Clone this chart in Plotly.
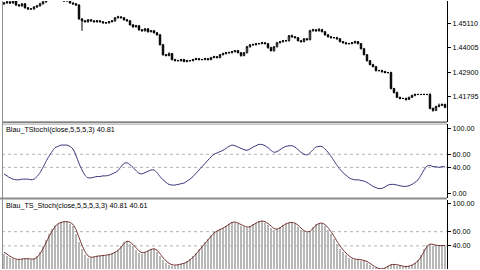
import plotly.graph_objects as go

# ---------------- data ----------------
close = [1.4604, 1.4609, 1.4604, 1.4613, 1.4595, 1.4591, 1.4600, 1.4582, 1.4577, 1.4577,
         1.4586, 1.4591, 1.4600, 1.4609, 1.4622, 1.4631, 1.4640, 1.4636, 1.4640, 1.4618,
         1.4613, 1.4618, 1.4604, 1.4600, 1.4595, 1.4532, 1.4523, 1.4519, 1.4528, 1.4523,
         1.4519, 1.4523, 1.4519, 1.4514, 1.4514, 1.4519, 1.4523, 1.4537, 1.4541, 1.4537,
         1.4528, 1.4523, 1.4505, 1.4496, 1.4501, 1.4483, 1.4478, 1.4487, 1.4474, 1.4478,
         1.4469, 1.4460, 1.4415, 1.4370, 1.4366, 1.4375, 1.4348, 1.4343, 1.4343, 1.4348,
         1.4339, 1.4343, 1.4343, 1.4348, 1.4352, 1.4348, 1.4348, 1.4352, 1.4348, 1.4357,
         1.4361, 1.4357, 1.4370, 1.4375, 1.4379, 1.4379, 1.4384, 1.4388, 1.4379, 1.4366,
         1.4379, 1.4406, 1.4415, 1.4415, 1.4420, 1.4420, 1.4424, 1.4420, 1.4402, 1.4388,
         1.4406, 1.4424, 1.4429, 1.4433, 1.4433, 1.4456, 1.4451, 1.4447, 1.4433, 1.4429,
         1.4442, 1.4438, 1.4478, 1.4483, 1.4478, 1.4483, 1.4474, 1.4460, 1.4451, 1.4447,
         1.4447, 1.4442, 1.4429, 1.4424, 1.4420, 1.4420, 1.4424, 1.4429, 1.4420, 1.4397,
         1.4370, 1.4343, 1.4325, 1.4316, 1.4298, 1.4298, 1.4294, 1.4289, 1.4289, 1.4217,
         1.4199, 1.4177, 1.4172, 1.4172, 1.4168, 1.4177, 1.4186, 1.4190, 1.4190, 1.4190,
         1.4190, 1.4190, 1.4127, 1.4118, 1.4136, 1.4141, 1.4145, 1.4132]
first_open = 1.4600
upper_wick_pips = [3, 4, 3, 5, 3, 4, 3, 4, 3, 3,
                   4, 3, 5, 4, 3, 4, 5, 3, 4, 5,
                   3, 4, 3, 3, 4, 3, 3, 4, 3, 3,
                   3, 4, 3, 3, 4, 3, 4, 3, 5, 3,
                   3, 4, 3, 3, 4, 3, 3, 4, 3, 3,
                   4, 3, 3, 4, 3, 5, 3, 3, 4, 3,
                   3, 4, 3, 3, 4, 3, 3, 4, 3, 3,
                   4, 3, 3, 4, 3, 5, 3, 3, 4, 3,
                   3, 4, 3, 5, 3, 3, 4, 3, 3, 4,
                   3, 4, 3, 3, 4, 3, 5, 3, 3, 4,
                   3, 3, 5, 4, 3, 8, 4, 3, 3, 4,
                   3, 4, 3, 3, 4, 3, 3, 4, 3, 3,
                   4, 3, 3, 4, 3, 3, 4, 3, 3, 4,
                   3, 4, 3, 3, 4, 3, 3, 4, 3, 3,
                   4, 3, 6, 4, 3, 8, 4, 3]
lower_wick_pips = [4, 3, 5, 3, 4, 3, 4, 3, 5, 3,
                   3, 4, 3, 3, 4, 3, 3, 4, 3, 3,
                   4, 3, 3, 4, 3, 4, 45, 3, 4, 3,
                   3, 4, 3, 3, 4, 3, 3, 4, 3, 3,
                   4, 3, 3, 4, 3, 5, 3, 3, 4, 3,
                   3, 4, 3, 5, 3, 3, 4, 3, 3, 4,
                   3, 3, 4, 3, 3, 4, 3, 3, 4, 3,
                   3, 4, 3, 3, 4, 3, 3, 4, 3, 5,
                   3, 3, 4, 3, 3, 4, 3, 3, 5, 3,
                   4, 3, 3, 4, 3, 3, 4, 3, 3, 4,
                   3, 4, 3, 3, 4, 3, 3, 4, 3, 3,
                   3, 4, 3, 3, 4, 3, 3, 4, 3, 3,
                   3, 4, 3, 3, 4, 3, 6, 3, 3, 4,
                   5, 3, 4, 3, 6, 3, 3, 4, 3, 3,
                   3, 3, 4, 6, 3, 4, 3, 4]

stoch = [30, 27, 24, 22, 21, 21, 22, 22, 22, 21,
         22, 26, 32, 40, 49, 57, 64, 70, 72, 74,
         74, 74, 72, 68, 58, 46, 36, 28, 24, 24,
         25, 26, 26, 27, 27, 28, 30, 32, 35, 41,
         46, 47, 44, 40, 35, 31, 30, 32, 34, 36,
         36, 32, 26, 21, 17, 14, 13, 13, 14, 15,
         16, 19, 22, 26, 31, 36, 41, 46, 51, 56,
         60, 62, 64, 66, 69, 72, 74, 73, 71, 69,
         67, 66, 68, 71, 73, 75, 75, 73, 70, 66,
         63, 64, 67, 70, 72, 73, 73, 71, 67, 63,
         60, 59, 62, 67, 71, 72, 72, 68, 63, 57,
         50, 43, 37, 32, 28, 24, 22, 21, 21, 20,
         19, 17, 14, 11, 9, 7.5, 8, 10, 13, 14,
         14, 13, 12, 11, 11, 12, 14, 17, 21, 28,
         36, 42, 43, 41, 41, 40, 41, 40.81]
signal = [31, 28.5, 25.5, 23, 21.5, 21, 21.5, 22, 22, 21.5,
          21.5, 24, 29, 36, 44.5, 53, 60.5, 67, 71, 73,
          74, 74, 73, 70, 63, 52, 41, 32, 26, 24,
          24.5, 25.5, 26, 26.5, 27, 27.5, 29, 31, 33.5, 38,
          43.5, 46.5, 45.5, 42, 37.5, 33, 30.5, 31, 33, 35,
          36, 34, 29, 23.5, 19, 15.5, 13.5, 13, 13.5, 14.5,
          15.5, 17.5, 20.5, 24, 28.5, 33.5, 38.5, 43.5, 48.5, 53.5,
          58, 61, 63, 65, 67.5, 70.5, 73, 73.5, 72, 70,
          68, 66.5, 67, 69.5, 72, 74, 75, 74, 71.5, 68,
          64.5, 63.5, 65.5, 68.5, 71, 72.5, 73, 72, 69, 65,
          61.5, 59.5, 60.5, 64.5, 69, 71.5, 72, 70, 65.5, 60,
          53.5, 46.5, 40, 34.5, 30, 26, 23, 21.5, 21, 20.5,
          19.5, 18, 15.5, 12.5, 10, 8.2, 7.8, 9, 11.5, 13.5,
          14, 13.5, 12.5, 11.5, 11, 11.5, 13, 15.5, 19, 24.5,
          32, 39, 42.5, 42, 41, 40.5, 40.5, 40.61]

price_ticks = [1.41795, 1.42900, 1.44005, 1.45110]
price_tick_text = ["1.41795", "1.42900", "1.44005", "1.45110"]
osc_ticks = [0, 40, 60, 100]
osc_tick_text = ["0.00", "40.00", "60.00", "100.00"]
level_lines = [40, 60]
title1 = "Blau_TStochI(close,5,5,5,3) 40.81"
title2 = "Blau_TS_Stoch(close,5,5,5,3,3) 40.81 40.61"

# ---------------- derived OHLC ----------------
n = len(close)
bars = list(range(n))
open_ = [first_open] + close[:-1]
high = [max(o, c) + w * 0.0001 for o, c, w in zip(open_, close, upper_wick_pips)]
low = [min(o, c) - w * 0.0001 for o, c, w in zip(open_, close, lower_wick_pips)]

# ---------------- figure ----------------
W, H = 480, 270
def px(x):
    return x / W
def py(y):
    return 1 - y / H

FONT = "Liberation Sans, Arial, sans-serif"
FS = 7.2

fig = go.Figure()
fig.add_trace(go.Candlestick(
    x=bars, open=open_, high=high, low=low, close=close,
    xaxis="x", yaxis="y",
    increasing=dict(line=dict(color="black", width=1), fillcolor="white"),
    decreasing=dict(line=dict(color="black", width=1), fillcolor="black"),
    whiskerwidth=0, showlegend=False, hoverinfo="skip"))

fig.add_trace(go.Scatter(
    x=bars, y=stoch, mode="lines", xaxis="x", yaxis="y2",
    line=dict(color="#34347a", width=1, shape="spline", smoothing=0.6),
    showlegend=False, hoverinfo="skip"))

fig.add_trace(go.Bar(
    x=bars, y=stoch, xaxis="x", yaxis="y3", width=0.34,
    marker=dict(color="#b8b8b8", line=dict(width=0)),
    showlegend=False, hoverinfo="skip"))
fig.add_trace(go.Scatter(
    x=bars, y=signal, mode="lines", xaxis="x", yaxis="y3",
    line=dict(color="#6e2a2a", width=1, shape="spline", smoothing=0.6),
    showlegend=False, hoverinfo="skip"))

yax_common = dict(side="right", anchor="x", showline=True, linecolor="black",
                  linewidth=1, ticks="outside", ticklen=3, tickcolor="black",
                  tickwidth=1, showgrid=False, zeroline=False, fixedrange=True,
                  tickfont=dict(family=FONT, size=FS, color="black"))

shapes = []
for yref in ["y2", "y3"]:
    for lv in level_lines:
        shapes.append(dict(type="line", xref="paper", yref=yref,
                           x0=px(2), x1=px(447), y0=lv, y1=lv,
                           line=dict(color="#b4b4b4", width=1, dash="3px,3px"),
                           layer="below"))
# panel frames / separators
shapes += [
    dict(type="line", xref="paper", yref="paper", x0=px(2), x1=px(447),
         y0=py(122), y1=py(122), line=dict(color="#303030", width=1)),
    dict(type="line", xref="paper", yref="paper", x0=px(2), x1=px(447),
         y0=py(124), y1=py(124), line=dict(color="#a0a0a0", width=1)),
    dict(type="rect", xref="paper", yref="paper", x0=px(0), x1=px(447),
         y0=py(200), y1=py(198), fillcolor="#8c8c8c", line=dict(width=0)),
    dict(type="line", xref="paper", yref="paper", x0=px(2.5), x1=px(2.5),
         y0=0, y1=1, line=dict(color="#909090", width=1)),
]

fig.update_layout(
    width=W, height=H, margin=dict(l=0, r=0, t=0, b=0),
    paper_bgcolor="white", plot_bgcolor="white",
    showlegend=False, bargap=0,
    xaxis=dict(domain=[px(2), px(447)], range=[-0.667, n - 0.333],
               showticklabels=False, showgrid=False, zeroline=False,
               showline=False, ticks="", rangeslider=dict(visible=False),
               fixedrange=True, anchor="y3"),
    yaxis=dict(domain=[py(122), 1], range=[1.40651, 1.46129],
               tickvals=price_ticks, ticktext=price_tick_text, **yax_common),
    yaxis2=dict(domain=[py(198), py(124)], range=[-6.06, 106.06],
                tickvals=osc_ticks, ticktext=osc_tick_text, **yax_common),
    yaxis3=dict(domain=[0, py(200)], range=[7.53, 105.2],
                tickvals=osc_ticks, ticktext=osc_tick_text, **yax_common),
    shapes=shapes,
    annotations=[
        dict(text=title1, xref="paper", yref="paper", x=px(4), y=py(129),
             xanchor="left", yanchor="middle", showarrow=False,
             font=dict(family=FONT, size=FS, color="black")),
        dict(text=title2, xref="paper", yref="paper", x=px(4), y=py(206),
             xanchor="left", yanchor="middle", showarrow=False,
             font=dict(family=FONT, size=FS, color="black")),
    ],
)

fig.write_html("out.html")
